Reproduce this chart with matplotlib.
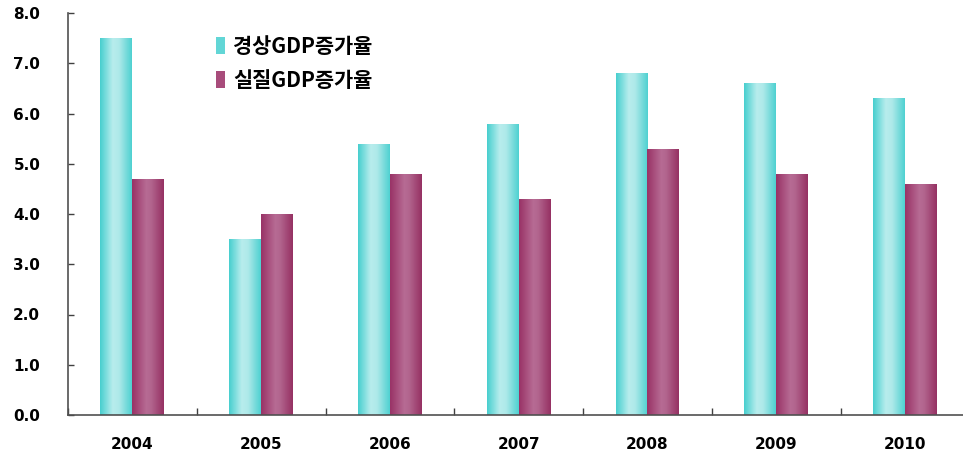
import matplotlib
matplotlib.use("Agg")
import matplotlib.pyplot as plt
import numpy as np
from matplotlib.colors import LinearSegmentedColormap
from matplotlib.patches import Patch

plt.rcParams['font.family'] = ['Noto Sans CJK KR', 'DejaVu Sans']

years = ['2004', '2005', '2006', '2007', '2008', '2009', '2010']
nominal = [7.5, 3.5, 5.4, 5.8, 6.8, 6.6, 6.3]
real = [4.7, 4.0, 4.8, 4.3, 5.3, 4.8, 4.6]
series_names = ['경상GDP증가율', '실질GDP증가율']

# horizontal shading across each bar: edge -> highlight -> edge
cyan_map = LinearSegmentedColormap.from_list(
    'cyan', [(0, '#48cfcf'), (0.4, '#b8eded'), (0.6, '#aee9e9'), (1, '#4fd1d1')])
plum_map = LinearSegmentedColormap.from_list(
    'plum', [(0, '#993366'), (0.45, '#b76b94'), (0.6, '#b2658e'), (1, '#963163')])

fig = plt.figure(figsize=(9.63, 4.57), dpi=100)
ax = fig.add_axes([68 / 963, 42 / 457, (963 - 68) / 963, (415 - 13) / 457])

x = np.arange(len(years))
w = 0.248
bars_a = ax.bar(x - w / 2, nominal, w, color='#7fdede', linewidth=0)
bars_b = ax.bar(x + w / 2, real, w, color='#aa5580', linewidth=0)

grad = np.linspace(0, 1, 64).reshape(1, -1)
for bars, cmap in ((bars_a, cyan_map), (bars_b, plum_map)):
    for b in bars:
        x0, y0 = b.get_x(), b.get_y()
        im = ax.imshow(grad, cmap=cmap, aspect='auto', interpolation='bilinear',
                       extent=(x0, x0 + b.get_width(), y0, y0 + b.get_height()),
                       zorder=2)
        im.set_clip_path(b)

ax.set_xlim(-0.488, 6.45)
ax.set_ylim(0, 8)
ax.set_aspect('auto')

tick_font = {'family': 'DejaVu Sans', 'size': 11, 'weight': 'bold'}

ax.set_yticks(np.arange(0, 8.01, 1.0))
ax.set_yticklabels([f'{v:.1f}' for v in np.arange(0, 8.01, 1.0)],
                   fontdict=tick_font)
ax.tick_params(axis='y', direction='in', length=4, width=1, pad=20,
               color='#404040')

# category boundaries carry the ticks, labels sit at the centres
ax.set_xticks(np.arange(-0.5, 6.0, 1.0))
ax.set_xticklabels([])
ax.tick_params(axis='x', which='major', direction='in', length=5, width=1,
               color='#404040')
ax.set_xticks(x, minor=True)
ax.set_xticklabels(years, minor=True, fontdict=tick_font)
ax.tick_params(axis='x', which='minor', length=0, pad=16)

for s in ('top', 'right'):
    ax.spines[s].set_visible(False)
for s in ('left', 'bottom'):
    ax.spines[s].set_color('#505050')
    ax.spines[s].set_linewidth(1.2)

handles = [Patch(facecolor='#62d6d6', linewidth=0),
           Patch(facecolor='#a84c7b', linewidth=0)]
ax.legend(handles, series_names, loc='upper left',
          bbox_to_anchor=(129 / 895, 0.99), frameon=False,
          handlelength=0.45, handleheight=0.9, handletextpad=0.4,
          labelspacing=0.62, prop={'size': 15, 'weight': 'bold'})

fig.savefig('out.png', dpi=100)
